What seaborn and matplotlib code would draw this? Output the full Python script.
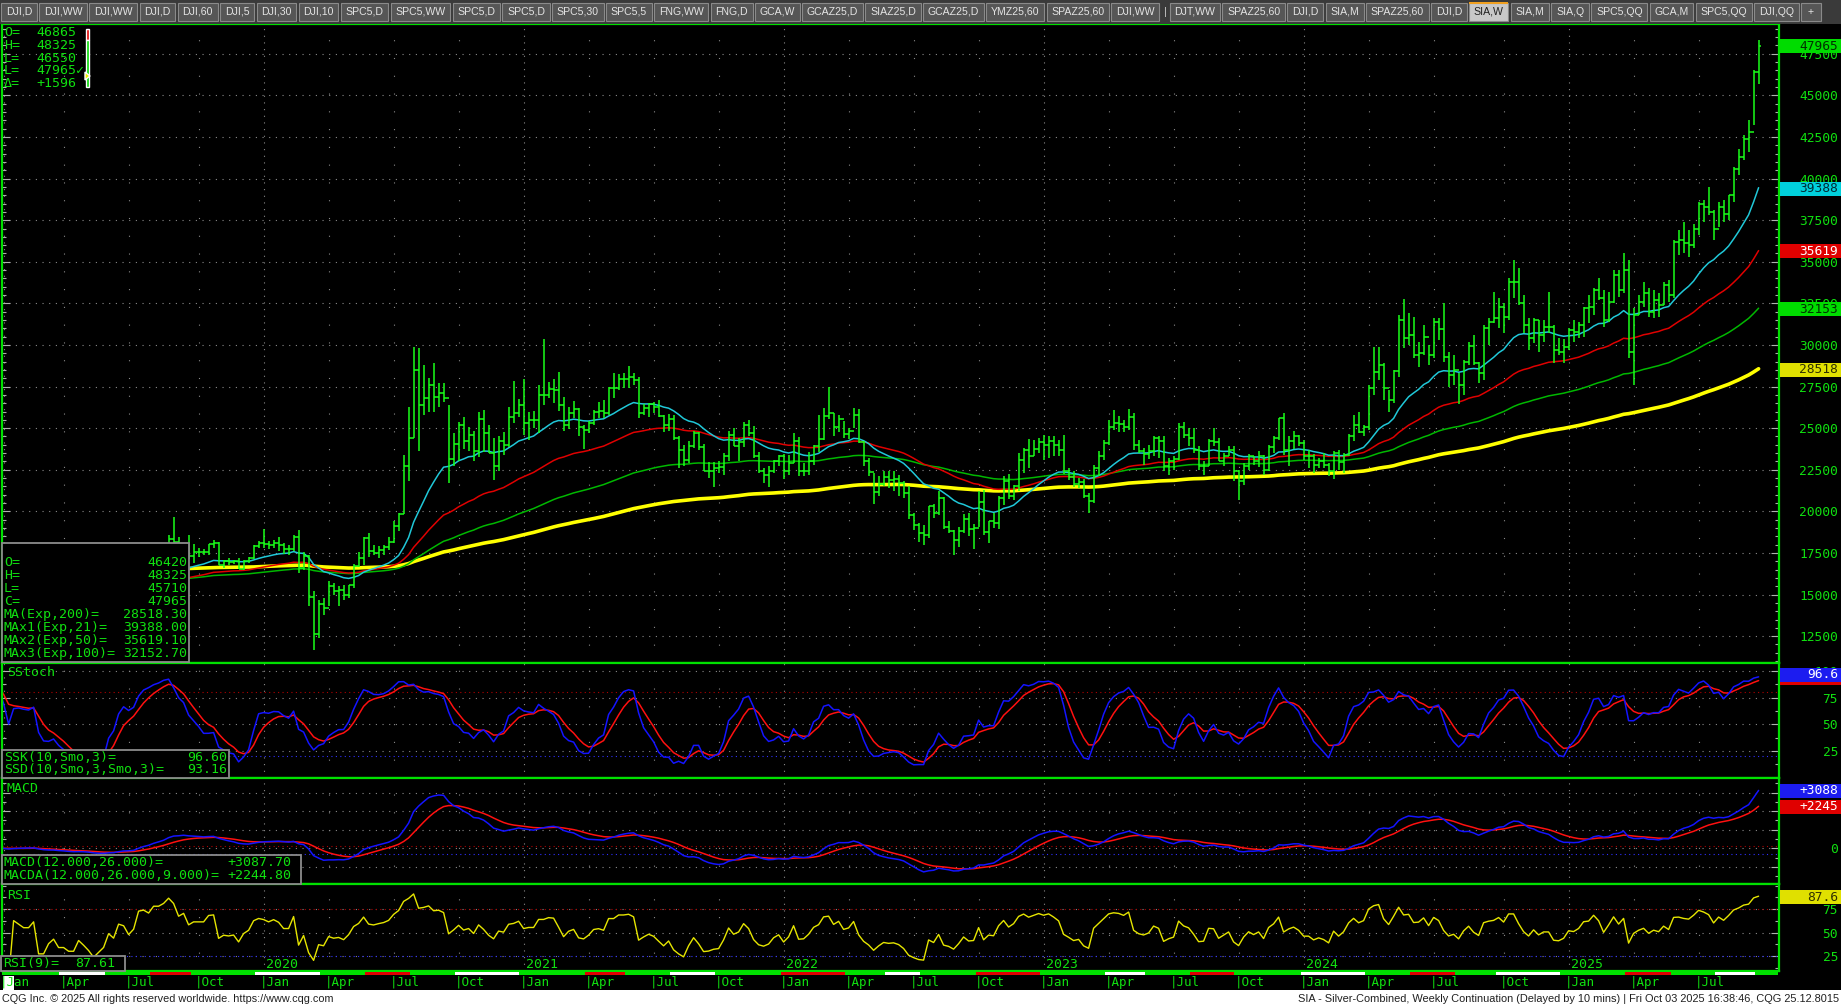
import numpy as np
import pandas as pd
import matplotlib
matplotlib.use("Agg")
import matplotlib.pyplot as plt
import seaborn as sns
from matplotlib.patches import Rectangle, Polygon
from matplotlib.ticker import MultipleLocator

# ---------------- data: SIA weekly bars (week starting Monday) in $/oz ----------------
first_week = "2018-12-31"
PRICE_UNIT = 1000   # chart quotes silver in 1/1000 $

highs = [
    # 2019
    15.80, 15.90, 15.70, 15.95, 16.20, 15.95, 15.85, 16.10, 16.10, 15.20, 15.40, 15.65, 15.50,
    15.25, 15.25, 15.05, 15.20, 15.20, 15.00, 14.85, 14.65, 14.70, 15.10, 15.05, 15.45, 15.55,
    15.35, 15.35, 16.40, 16.60, 16.55, 17.25, 17.25, 17.50, 18.55, 19.65, 18.45, 18.05, 18.55,
    18.05, 17.80, 17.75, 18.05, 18.25, 18.15, 17.05, 17.20, 17.10, 17.20, 17.10, 17.25, 17.95, 18.20,
    # 2020
    18.95, 18.20, 18.25, 18.45, 18.10, 17.95, 18.60, 18.90, 17.55, 17.40, 15.20, 14.70, 14.80,
    15.80, 15.70, 15.50, 15.55, 15.60, 16.85, 17.55, 18.45, 18.70, 17.95, 17.90, 18.00, 18.45,
    19.40, 19.90, 23.40, 26.25, 29.90, 29.80, 28.80, 28.00, 28.90, 27.70, 27.70, 26.40, 24.70,
    25.40, 25.70, 25.10, 24.85, 26.00, 26.10, 25.20, 24.40, 24.50, 24.75, 26.30, 27.85, 26.75,
    # 2021
    27.95, 26.00, 26.05, 27.60, 30.35, 27.80, 27.95, 28.40, 26.85, 26.30, 26.65, 26.20, 25.20,
    25.45, 26.10, 26.60, 26.70, 27.50, 28.30, 28.25, 28.30, 28.75, 28.30, 28.10, 26.45, 26.50,
    26.55, 26.70, 25.80, 25.85, 25.80, 24.50, 24.00, 24.20, 24.85, 24.75, 24.05, 22.95, 22.95,
    23.00, 23.50, 24.85, 25.00, 24.40, 25.40, 25.50, 25.15, 23.55, 22.60, 22.70, 23.10, 23.40,
    # 2022
    23.45, 23.40, 24.70, 24.45, 22.90, 23.55, 24.00, 25.80, 26.20, 27.50, 25.90, 25.80, 25.45,
    25.00, 26.20, 26.15, 24.20, 23.20, 22.30, 22.15, 22.40, 22.40, 22.45, 22.20, 21.85, 21.50,
    19.90, 19.30, 19.20, 20.30, 20.45, 21.25, 20.85, 19.40, 18.90, 19.05, 19.85, 19.90, 19.25,
    21.20, 21.30, 19.45, 19.90, 20.95, 22.10, 22.25, 21.60, 23.50, 23.80, 24.35, 24.30, 24.40,
    # 2023
    24.60, 24.50, 24.50, 24.30, 24.60, 22.60, 22.40, 22.00, 21.95, 21.10, 22.80, 23.60, 24.30,
    25.50, 26.10, 25.75, 25.50, 26.15, 25.90, 24.30, 23.80, 24.00, 24.50, 24.50, 24.50, 23.20,
    23.35, 25.30, 25.35, 25.00, 25.00, 23.90, 23.05, 24.35, 25.00, 24.40, 23.50, 23.90, 23.90,
    22.50, 22.90, 23.45, 23.30, 23.60, 23.40, 24.00, 24.50, 25.60, 25.90, 24.50, 24.85, 24.60,
    # 2024
    24.30, 23.70, 23.45, 23.20, 23.50, 22.90, 23.60, 23.70, 23.50, 24.65, 25.80, 25.95, 25.20,
    27.60, 29.90, 29.85, 28.90, 27.30, 28.50, 31.80, 32.75, 31.95, 31.70, 30.20, 31.20, 30.00,
    31.60, 31.60, 32.50, 29.60, 29.40, 28.30, 29.10, 30.20, 30.60, 29.00, 31.20, 31.60, 33.20,
    32.80, 32.50, 34.00, 35.10, 34.60, 33.00, 31.60, 31.65, 31.50, 31.50, 33.20, 31.20, 30.40, 30.35,
    # 2025
    31.00, 31.50, 31.40, 32.30, 33.00, 33.40, 34.00, 33.30, 33.20, 34.50, 34.50, 35.50, 35.10,
    32.20, 33.00, 33.80, 33.40, 33.30, 33.10, 33.80, 33.90, 36.30, 36.90, 37.40, 36.90, 37.30,
    38.60, 38.70, 39.50, 38.10, 38.60, 38.70, 39.00, 40.70, 41.80, 42.60, 43.50, 46.50, 48.325,
]
lows = [
    # 2019
    15.40, 15.60, 15.28, 15.15, 15.80, 15.70, 15.45, 15.80, 15.15, 14.85, 15.05, 15.25, 14.95,
    14.95, 14.90, 14.90, 14.90, 14.85, 14.70, 14.40, 14.30, 14.35, 14.55, 14.75, 14.80, 15.15,
    14.90, 14.95, 15.15, 16.15, 16.00, 16.30, 16.70, 16.90, 17.40, 18.10, 17.50, 17.25, 17.15,
    16.90, 17.25, 17.35, 17.40, 17.80, 16.75, 16.60, 16.80, 16.85, 16.55, 16.50, 16.90, 17.15, 17.80,
    # 2020
    17.80, 17.75, 17.80, 17.60, 17.45, 17.40, 17.60, 16.30, 16.50, 14.30, 11.64, 12.40, 13.80,
    14.30, 15.00, 14.30, 14.65, 14.80, 15.40, 16.65, 16.80, 17.25, 17.35, 17.20, 17.40, 17.70,
    18.10, 18.80, 19.85, 21.80, 24.40, 23.60, 25.80, 26.00, 26.00, 26.30, 26.60, 21.70, 22.70,
    23.05, 23.75, 23.60, 23.00, 23.25, 23.55, 23.50, 21.90, 22.40, 23.40, 23.85, 25.30, 25.70,
    # 2021
    24.60, 24.30, 25.00, 24.70, 26.40, 26.80, 26.50, 26.05, 24.85, 24.95, 25.60, 24.50, 23.75,
    24.70, 25.20, 25.60, 25.60, 25.80, 26.80, 27.30, 27.40, 27.40, 27.60, 25.60, 25.80, 25.70,
    25.90, 25.70, 24.80, 24.85, 24.30, 22.60, 22.70, 22.90, 23.80, 23.70, 22.40, 22.00, 21.45,
    22.30, 22.20, 23.00, 23.90, 23.00, 23.85, 24.50, 23.20, 22.30, 21.70, 21.45, 22.30, 22.70,
    # 2022
    21.95, 22.20, 22.90, 22.15, 22.10, 22.20, 22.80, 23.55, 24.30, 25.55, 24.50, 24.75, 24.40,
    24.35, 25.00, 24.10, 22.70, 22.10, 20.45, 20.90, 21.55, 21.40, 21.20, 20.90, 20.80, 19.55,
    18.90, 18.15, 18.00, 18.40, 19.60, 19.80, 18.95, 18.70, 17.40, 17.85, 18.70, 18.50, 17.75,
    19.05, 18.60, 18.10, 19.00, 18.95, 20.40, 20.75, 20.70, 21.25, 22.30, 22.60, 23.30, 23.50,
    # 2023
    23.10, 23.20, 23.30, 23.30, 22.25, 21.90, 21.45, 21.40, 20.80, 19.90, 20.50, 22.10, 23.10,
    24.00, 24.90, 24.80, 24.75, 24.90, 23.70, 23.50, 22.80, 23.15, 23.30, 23.20, 22.45, 22.20,
    22.50, 23.10, 24.40, 23.90, 23.50, 22.50, 22.20, 22.70, 23.90, 23.00, 22.70, 23.30, 21.80,
    20.70, 21.60, 22.50, 22.80, 22.65, 22.20, 22.45, 23.50, 24.30, 23.40, 22.70, 23.75, 23.95,
    # 2024
    23.10, 22.60, 22.30, 22.60, 22.60, 22.10, 21.95, 22.50, 22.30, 23.30, 24.20, 24.70, 24.50,
    24.90, 27.00, 27.90, 26.70, 26.00, 26.50, 28.10, 29.80, 30.00, 29.20, 28.70, 29.40, 28.80,
    29.20, 30.30, 29.00, 27.50, 27.60, 26.45, 27.00, 28.80, 28.80, 27.70, 27.90, 30.00, 31.30,
    31.00, 30.70, 31.50, 32.80, 32.40, 30.70, 29.70, 30.10, 29.60, 30.20, 30.70, 28.90, 29.40, 28.90,
    # 2025
    29.70, 30.20, 30.40, 30.50, 31.30, 31.80, 32.70, 31.10, 31.40, 32.50, 32.90, 33.10, 29.20,
    27.60, 31.80, 32.30, 31.70, 31.60, 31.70, 32.40, 32.60, 32.80, 35.40, 35.50, 35.30, 35.80,
    36.60, 37.40, 37.80, 36.30, 37.10, 37.40, 37.50, 38.60, 40.20, 41.10, 41.60, 43.25, 45.710,
]
closes = [
    # 2019
    15.73, 15.62, 15.35, 15.90, 15.85, 15.80, 15.80, 15.90, 15.10, 15.10, 15.30, 15.40, 15.10,
    15.10, 14.95, 14.95, 15.15, 15.00, 14.80, 14.45, 14.55, 14.65, 15.00, 14.85, 15.35, 15.30,
    15.00, 15.20, 16.35, 16.45, 16.35, 17.05, 17.05, 17.40, 18.35, 18.15, 17.60, 17.90, 17.30,
    17.55, 17.55, 17.55, 18.05, 18.10, 16.80, 17.00, 16.95, 17.00, 16.55, 17.00, 17.20, 17.90, 18.10,
    # 2020
    18.05, 17.95, 18.10, 18.00, 17.75, 17.75, 18.45, 16.60, 17.30, 14.85, 12.60, 14.45, 14.20,
    15.50, 15.20, 15.30, 14.95, 15.55, 16.70, 17.20, 18.40, 17.60, 17.50, 17.70, 17.85, 18.15,
    19.10, 19.85, 22.75, 24.40, 28.50, 26.40, 26.80, 27.60, 26.90, 27.10, 26.80, 23.15, 24.05,
    25.20, 24.25, 24.60, 23.65, 25.55, 24.70, 23.50, 22.70, 24.20, 24.00, 25.70, 25.90, 26.40,
    # 2021
    25.30, 25.50, 25.50, 27.00, 27.00, 27.35, 27.30, 26.40, 25.20, 25.90, 26.15, 25.05, 24.90,
    25.30, 25.95, 26.05, 25.90, 27.40, 27.40, 27.95, 27.95, 28.05, 27.90, 25.90, 26.20, 26.45,
    26.25, 25.75, 25.20, 25.55, 24.40, 23.70, 23.10, 23.95, 24.70, 23.85, 22.40, 22.45, 22.60,
    22.65, 23.35, 24.60, 23.90, 24.15, 25.20, 24.70, 23.30, 22.45, 22.20, 22.40, 23.00, 23.30,
    # 2022
    22.40, 22.90, 24.25, 22.40, 22.45, 23.00, 23.95, 24.35, 25.75, 25.90, 25.05, 25.55, 24.65,
    24.85, 25.80, 24.15, 23.05, 22.35, 21.15, 21.65, 22.05, 21.90, 21.95, 21.70, 21.10, 19.80,
    19.20, 18.70, 18.55, 20.30, 19.90, 20.80, 19.05, 18.80, 18.25, 18.80, 19.55, 18.95, 19.00,
    20.55, 18.75, 19.40, 19.30, 20.80, 21.80, 20.95, 21.55, 23.10, 23.70, 23.35, 23.75, 24.15,
    # 2023
    24.00, 24.25, 24.00, 23.70, 22.40, 22.05, 21.65, 21.75, 20.95, 20.60, 22.60, 23.30, 24.10,
    25.05, 25.30, 25.25, 25.10, 25.65, 24.00, 23.60, 23.45, 23.65, 24.40, 24.20, 22.75, 23.00,
    23.15, 25.10, 24.60, 24.40, 23.70, 22.70, 22.75, 24.20, 24.15, 23.00, 23.35, 23.70, 22.40,
    21.80, 22.70, 23.35, 23.00, 23.30, 22.50, 23.85, 24.40, 25.60, 23.70, 24.20, 24.50, 24.10,
    # 2024
    23.30, 23.30, 22.80, 23.00, 22.80, 22.40, 23.50, 22.95, 23.40, 24.50, 25.20, 24.80, 25.10,
    27.40, 28.40, 28.80, 27.40, 26.70, 28.45, 31.50, 30.40, 30.60, 29.40, 29.50, 30.50, 29.40,
    31.40, 30.95, 29.30, 28.20, 28.50, 27.60, 29.00, 29.95, 28.90, 28.30, 31.00, 31.40, 31.60,
    32.30, 31.70, 33.80, 33.80, 32.50, 31.20, 30.40, 31.50, 30.60, 31.10, 31.10, 29.70, 29.60, 29.90,
    # 2025
    30.90, 30.80, 31.20, 32.20, 32.30, 33.30, 32.80, 31.50, 32.60, 34.20, 33.30, 34.50, 29.60,
    31.80, 32.60, 33.10, 32.00, 32.70, 32.40, 33.60, 33.00, 36.20, 36.30, 36.10, 36.00, 37.00,
    38.50, 38.30, 38.00, 37.00, 38.30, 37.90, 39.00, 40.60, 41.30, 42.40, 42.80, 46.40, 47.965,
]

# current weekly bar and day bar as printed in the chart
last_week = {"O": 46420, "H": 48325, "L": 45710, "C": 47965}
day_rows = [("O=", "46865"), ("H=", "48325"), ("L=", "46550"), ("L=", "47965\u2713"), ("\u0394=", "+1596")]
ma_rows = [("MA(Exp,200)=", "28518.30"), ("MAx1(Exp,21)=", "39388.00"),
           ("MAx2(Exp,50)=", "35619.10"), ("MAx3(Exp,100)=", "32152.70")]
ma_last = {200: 28518.30, 21: 39388.00, 50: 35619.10, 100: 32152.70}
# EMA levels carried in from before the first bar
ema_seed = {21: 15500, 50: 15600, 100: 16000, 200: 16900}
ssk_last, ssd_last = 96.60, 93.16
macd_last, macda_last = 3087.70, 2244.80
rsi_last = 87.61

price_ticks = [12500, 15000, 17500, 20000, 22500, 25000, 27500, 30000, 32500, 35000,
               37500, 40000, 42500, 45000, 47500]

tabs = ["DJI,D", "DJI,WW", "DJI,WW", "DJI,D", "DJI,60", "DJI,5", "DJI,30", "DJI,10", "SPC5,D",
        "SPC5,WW", "SPC5,D", "SPC5,D", "SPC5,30", "SPC5,5", "FNG,WW", "FNG,D", "GCA,W",
        "GCAZ25,D", "SIAZ25,D", "GCAZ25,D", "YMZ25,60", "SPAZ25,60", "DJI,WW", "|", "DJT,WW",
        "SPAZ25,60", "DJI,D", "SIA,M", "SPAZ25,60", "DJI,D", "SIA,W", "SIA,M", "SIA,Q",
        "SPC5,QQ", "GCA,M", "SPC5,QQ", "DJI,QQ", "+"]
active_tab = 30
footer_left = "CQG Inc. \u00a9 2025 All rights reserved worldwide. https://www.cqg.com"
footer_right = ("SIA - Silver-Combined, Weekly Continuation (Delayed by 10 mins) | "
                "Fri Oct 03 2025 16:38:46, CQG 25.12.8015")

# ---------------- bars & indicators ----------------
df = pd.DataFrame({"high": highs, "low": lows, "close": closes}) * PRICE_UNIT
df["week"] = pd.date_range(first_week, periods=len(df), freq="7D")
df["x"] = np.arange(len(df))
df["open"] = df["close"].shift(1)
df.loc[0, "open"] = df.loc[0, "close"]
df.loc[len(df) - 1, "open"] = last_week["O"]


def ema(s, span, seed=None):
    if seed is not None:
        s = pd.concat([pd.Series([seed]), s], ignore_index=True)
        return s.ewm(span=span, adjust=False).mean().iloc[1:].to_numpy()
    return s.ewm(span=span, adjust=False).mean().to_numpy()


def smo(s, n):
    # CQG "Smo" = smoothed (Wilder) average
    return pd.Series(s).ewm(alpha=1.0 / n, adjust=False).mean()


for n in (21, 50, 100, 200):
    df[f"ema{n}"] = ema(df["close"], n, ema_seed[n])

hh = df["high"].rolling(10, min_periods=1).max()
ll = df["low"].rolling(10, min_periods=1).min()
fast_k = 100 * (df["close"] - ll) / (hh - ll)
df["ssk"] = smo(fast_k, 3)
df["ssd"] = smo(df["ssk"], 3)

df["macd"] = ema(df["close"], 12) - ema(df["close"], 26)
df["macda"] = ema(df["macd"], 9)

chg = df["close"].diff().fillna(0)
up = smo(chg.clip(lower=0), 9)
dn = smo((-chg).clip(lower=0), 9)
df["rsi"] = (100 * up / (up + dn)).fillna(50)

# quarter / year markers on the time axis
month_first = df.groupby(df["week"].dt.to_period("M"))["x"].min()
quarters = month_first[[p.month in (1, 4, 7, 10) for p in month_first.index]]
quarters = quarters[quarters > 0]
years = quarters[[p.month == 1 for p in quarters.index]]
q_names = {1: "Jan", 4: "Apr", 7: "Jul", 10: "Oct"}

# ---------------- figure ----------------
sns.set_theme(style="dark")
plt.rcParams["font.family"] = ["DejaVu Sans Mono", "DejaVu Sans"]
W, H = 1841, 1008
fig = plt.figure(figsize=(W / 100, H / 100), dpi=100, facecolor="black")

BORDER = "#00e000"
LABEL = "#10e010"
GRID = "#8a8a8a"
TICK = "#b0b0b0"
BAR = "#19ff19"
XL = (0.68, 356.08)


def px_axes(x0, y0, x1, y1):
    return fig.add_axes([x0 / W, 1 - y1 / H, (x1 - x0) / W, (y1 - y0) / H])


def setup(ax, ylim, ticks, minor, labels):
    ax.set_facecolor("black")
    ax.set_xlim(XL)
    ax.set_ylim(ylim)
    for sp in ax.spines.values():
        sp.set_color(BORDER)
        sp.set_linewidth(1.6)
    ax.set_yticks(ticks)
    ax.set_yticklabels(labels)
    ax.yaxis.set_minor_locator(MultipleLocator(minor))
    ax.yaxis.set_ticks_position("both")
    ax.tick_params(axis="y", which="both", direction="in", color=TICK, width=0.8,
                   labelleft=False, labelright=True, labelcolor=LABEL, labelsize=9.3, pad=42.5)
    ax.tick_params(axis="y", which="major", length=6)
    ax.tick_params(axis="y", which="minor", length=3)
    for t in ax.yaxis.get_major_ticks():
        t.label2.set_horizontalalignment("right")
    ax.set_xticks(years.values)
    ax.set_xticks(quarters.values, minor=True)
    ax.tick_params(axis="x", which="both", length=0, labelbottom=False)
    ax.grid(False)
    ax.grid(axis="y", which="major", color=GRID, ls=(0, (1, 5)), lw=0.8)
    ax.grid(axis="x", which="major", color=GRID, ls=(0, (1, 5)), lw=0.8)
    ax.grid(axis="x", which="minor", color=GRID, ls=(0, (1, 15)), lw=0.8)
    ax.set_xlabel("")
    ax.set_ylabel("")


ax_p = px_axes(2, 24, 1779, 663)
ax_s = px_axes(2, 663, 1779, 778)
ax_m = px_axes(2, 778, 1779, 884)
ax_r = px_axes(2, 884, 1779, 971)

setup(ax_p, (10887, 49291), price_ticks, 500, [str(v) for v in price_ticks])
setup(ax_s, (-0.2, 107.5), [25, 50, 75, 100], 12.5, ["25", "50", "75", "100"])
setup(ax_m, (-1920, 3780), [-1000, 0, 1000, 2000, 3000], 500, ["", "0", "", "", ""])
setup(ax_r, (9.1, 101.7), [25, 50, 75], 12.5, ["25", "50", "75"])

# price panel: moving averages then OHLC bars
sns.lineplot(x=df["x"], y=df["ema200"], ax=ax_p, color="#ffff00", lw=2.6, legend=False)
sns.lineplot(x=df["x"], y=df["ema100"], ax=ax_p, color="#00b800", lw=1.1, legend=False)
sns.lineplot(x=df["x"], y=df["ema50"], ax=ax_p, color="#e00000", lw=1.1, legend=False)
sns.lineplot(x=df["x"], y=df["ema21"], ax=ax_p, color="#20c8d8", lw=1.1, legend=False)
ax_p.vlines(df["x"], df["low"], df["high"], color=BAR, lw=1.1, zorder=5)
ax_p.hlines(df["open"], df["x"] - 0.45, df["x"], color=BAR, lw=1.1, zorder=5)
ax_p.hlines(df["close"], df["x"], df["x"] + 0.45, color=BAR, lw=1.1, zorder=5)

# slow stochastic
ax_s.axhline(80, color="#b00000", ls=(0, (1, 3)), lw=0.8)
ax_s.axhline(20, color="#3030ff", ls=(0, (1, 3)), lw=0.8)
sns.lineplot(x=df["x"], y=df["ssd"], ax=ax_s, color="#ff1010", lw=1.1, legend=False)
sns.lineplot(x=df["x"], y=df["ssk"], ax=ax_s, color="#1414ff", lw=1.1, legend=False)

# MACD
ax_m.axhline(150, color="#b00000", ls=(0, (1, 3)), lw=0.8)
ax_m.axhline(-300, color="#3030ff", ls=(0, (1, 3)), lw=0.8)
sns.lineplot(x=df["x"], y=df["macda"], ax=ax_m, color="#ff1010", lw=1.1, legend=False)
sns.lineplot(x=df["x"], y=df["macd"], ax=ax_m, color="#1414ff", lw=1.1, legend=False)

# RSI
ax_r.axhline(75, color="#b00000", ls=(0, (1, 3)), lw=0.8)
ax_r.axhline(25, color="#3030ff", ls=(0, (1, 3)), lw=0.8)
sns.lineplot(x=df["x"], y=df["rsi"], ax=ax_r, color="#e6e600", lw=1.0, legend=False)

for a in (ax_p, ax_s, ax_m, ax_r):
    a.set_xlim(XL)
    a.set_xlabel("")
    a.set_ylabel("")

# ---------------- overlay in pixel coordinates ----------------
ov = fig.add_axes([0, 0, 1, 1], zorder=10)
ov.set_xlim(0, W)
ov.set_ylim(H, 0)
ov.axis("off")
ov.patch.set_alpha(0)


def ypix(ax, v):
    return H - ax.transData.transform((0, v))[1]


def xpix(i):
    return ax_p.transData.transform((i, 0))[0]


TXT = dict(color=LABEL, fontsize=9.5, va="center")
TOP = dict(color=LABEL, fontsize=9.5, va="center", zorder=6)

# value boxes on the right scale (drawn back to front)
boxes = [
    (ax_p, last_week["C"], "47965", "#00dc00", "#003000"),
    (ax_p, ma_last[21], "39388", "#00d0dc", "#002a33"),
    (ax_p, ma_last[50], "35619", "#e00000", "white"),
    (ax_p, ma_last[100], "32153", "#00dc00", "#003000"),
    (ax_p, ma_last[200], "28518", "#e0e000", "#303000"),
    (ax_s, ssd_last, "", "#e00000", "white"),
    (ax_s, ssk_last, "96.6", "#1c1cf0", "white"),
    (ax_m, macd_last, "+3088", "#1c1cf0", "white"),
    (ax_m, macda_last, "+2245", "#e00000", "white"),
    (ax_r, rsi_last, "87.6", "#e0e000", "#303000"),
]
for z, (ax, val, txt, fc, tc) in enumerate(boxes):
    y = ypix(ax, val)
    ov.add_patch(Rectangle((1780, y - 7), 61, 14, facecolor=fc, edgecolor="none", zorder=2 + z))
    ov.text(1838, y, txt, color=tc, fontsize=9.3, ha="right", va="center", zorder=2 + z)

# top-left day box
for k, (lab, val) in enumerate(day_rows):
    y = 32.5 + 12.75 * k
    ov.text(4, y, lab, **TXT)
    ov.text(84 if k == 3 else 76, y, val, ha="right", **TXT)
ov.add_patch(Rectangle((86, 29), 3.5, 11, facecolor="#e00000"))
ov.add_patch(Rectangle((86, 40), 3.5, 47, facecolor="#00d800"))
ov.add_patch(Polygon([[85, 72], [85, 80], [90, 76]], closed=True, facecolor="#f0f000"))

# year labels at the bottom of the RSI pane (left of the RSI legend they are hidden)
for p, i in years.items():
    if xpix(i) > 130:
        ov.text(xpix(i) + 2, 964, str(p.year), **TXT)

# bottom-left price legend
ov.add_patch(Rectangle((2, 543), 187, 119, facecolor="black", edgecolor="#8c8c8c", lw=1.3, zorder=5))
rows = [("O=", str(last_week["O"])), ("H=", str(last_week["H"])), ("L=", str(last_week["L"])),
        ("C=", str(last_week["C"]))] + ma_rows
for k, (lab, val) in enumerate(rows):
    y = 562.3 + 13.0 * k
    ov.text(4, y, lab, **TOP)
    ov.text(187, y, val, ha="right", **TOP)

# indicator titles and legends
ov.text(7, 673, "SStoch", **TXT)
ov.add_patch(Rectangle((2.5, 749.5), 226.5, 28.5, facecolor="black", edgecolor="#8c8c8c", lw=1.3, zorder=5))
ov.text(4, 757.5, "SSK(10,Smo,3)=", **TOP)
ov.text(4, 769.5, "SSD(10,Smo,3,Smo,3)=", **TOP)
ov.text(227, 757.5, f"{ssk_last:.2f}", ha="right", **TOP)
ov.text(227, 769.5, f"{ssd_last:.2f}", ha="right", **TOP)

ov.text(7, 788.5, "MACD", **TXT)
ov.add_patch(Rectangle((2.5, 855), 299, 29, facecolor="black", edgecolor="#8c8c8c", lw=1.3, zorder=5))
ov.text(4, 862.5, "MACD(12.000,26.000)=", **TOP)
ov.text(4, 875.8, "MACDA(12.000,26.000,9.000)=", **TOP)
ov.text(291.5, 862.5, f"{macd_last:+.2f}", ha="right", **TOP)
ov.text(291.5, 875.8, f"{macda_last:+.2f}", ha="right", **TOP)

ov.text(7, 895.5, "RSI", **TXT)
ov.add_patch(Rectangle((1.5, 955.5), 123.5, 15.5, facecolor="black", edgecolor="#8c8c8c", lw=1.3, zorder=5))
ov.text(3, 963.5, "RSI(9)=", **TOP)
ov.text(115, 963.5, f"{rsi_last:.2f}", ha="right", **TOP)

# time strip with quarter labels
ov.add_patch(Rectangle((2, 971.5), 1776, 3, facecolor=BORDER, edgecolor="none", zorder=7))
white_spans = [(12.1, 21.3), (51.3, 64.3), (91.3, 104.1), (134.3, 143.3), (177.3, 184.3),
               (221.3, 229.3), (260.4, 273.3), (299.4, 312.3), (343.2, 351.3)]
red_spans = [(30.3, 38.5), (73.3, 82.3), (117.3, 125.3), (156.5, 169.3), (195.5, 208.3),
             (238.3, 247.1), (282.3, 291.2), (325.3, 334.4)]
for spans, c in ((white_spans, "white"), (red_spans, "#e00000")):
    for a, b in spans:
        ov.add_patch(Rectangle((xpix(a), 971.5), xpix(b) - xpix(a), 3, facecolor=c,
                               edgecolor="none", zorder=8))
ov.add_patch(Rectangle((3, 976), 11, 14, facecolor="white", edgecolor="none"))
for p, i in quarters.items():
    ov.text(xpix(i) - 3.5, 982.5, "|" + q_names[p.month], color=LABEL, fontsize=9.0, va="center")

# footer
ov.add_patch(Rectangle((0, 990), W, 18, facecolor="white", edgecolor="none"))
ov.text(2, 999, footer_left, color="#202020", fontsize=7.8, va="center", family="Liberation Sans")
ov.text(1839, 999, footer_right, color="#202020", fontsize=7.9, va="center", ha="right",
        family="Liberation Sans")

# tab strip
ov.add_patch(Rectangle((0, 0), W, 23.5, facecolor="#3a3a3a", edgecolor="none"))
renderer = fig.canvas.get_renderer()
x = 1.0
for k, name in enumerate(tabs):
    if name == "|":
        ov.text(x + 2, 12, "|", color="#c8c8c8", fontsize=8, va="center", family="Liberation Sans")
        x += 8
        continue
    t = ov.text(0, 12, name, fontsize=7.6, va="center", ha="center", family="Liberation Sans",
                color="#202020" if k == active_tab else "#e4e4e4", zorder=3)
    w = t.get_window_extent(renderer).width + 9.3
    if name == "+":
        w = 20
    t.set_x(x + w / 2)
    fc = "#c8c8c8" if k == active_tab else "#565656"
    ov.add_patch(Rectangle((x, 2.5), w, 18.5, facecolor=fc, edgecolor="#8a8a8a", lw=0.8, zorder=2))
    if k == active_tab:
        ov.add_patch(Rectangle((x, 1.5), w, 2, facecolor="#f0a020", edgecolor="none", zorder=3))
    x += w + 2.5

fig.savefig("out.png", dpi=100, facecolor="black")
